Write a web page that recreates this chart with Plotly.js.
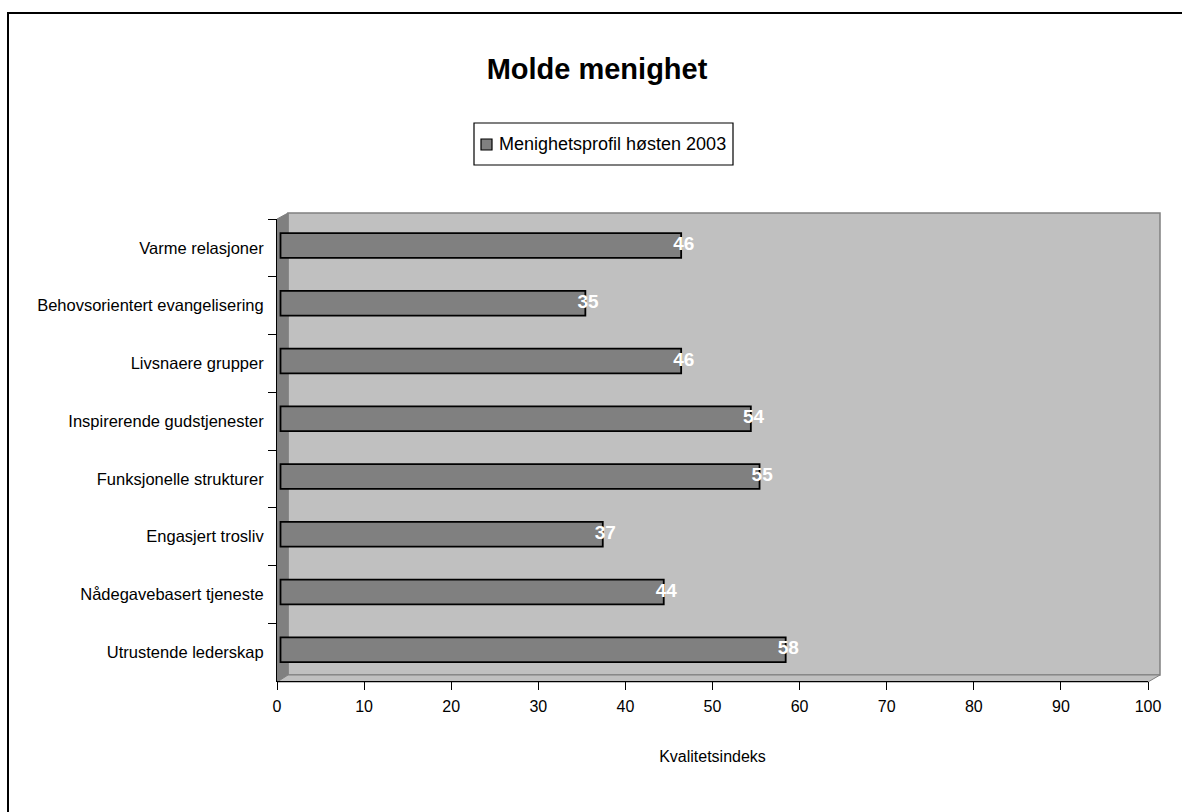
<!DOCTYPE html>
<html>
<head>
<meta charset="utf-8">
<script src="https://cdn.plot.ly/plotly-3.0.1.min.js"></script>
<style>
html,body{margin:0;padding:0;background:#fff;}
#chart{width:1182px;height:812px;}
</style>
</head>
<body>
<div id="chart"></div>
<script>
// Data (top to bottom as shown)
const categories = [
  "Varme relasjoner",
  "Behovsorientert evangelisering",
  "Livsnaere grupper",
  "Inspirerende gudstjenester",
  "Funksjonelle strukturer",
  "Engasjert trosliv",
  "Nådegavebasert tjeneste",
  "Utrustende lederskap"
];
const values = [46, 35, 46, 54, 55, 37, 44, 58];
const seriesName = "Menighetsprofil høsten 2003";
const xTicks = [0, 10, 20, 30, 40, 50, 60, 70, 80, 90, 100];

const FONT = "'Liberation Sans', Arial, sans-serif";

// plot pixel geometry
const L = 277, R = 34, T = 219, B = 131;
const W = 1182 - L - R, H = 812 - T - B;
const px = x => (x - L) / W;          // pixel -> paper x
const py = y => 1 - (y - T) / H;      // pixel -> paper y
const n = categories.length;
const band = H / n;
const dxUnits = 3.5 / (W / 100);      // 3D offset of bars (px -> data units)
const dyCats = 2.4 / band;

const traces = [
  {
    type: "bar",
    orientation: "h",
    y: categories,
    x: values,
    xaxis: "x2", yaxis: "y2",
    name: seriesName,
    width: 0.43,
    marker: { color: "#808080", line: { color: "#000000", width: 1.8 } },
    showlegend: false
  },
  {
    type: "scatter",
    mode: "text",
    y: categories,
    x: values.map(v => v + 0.3),
    xaxis: "x2", yaxis: "y2",
    text: values.map(String),
    textposition: "middle center",
    textfont: { family: FONT, size: 19, color: "#ffffff", weight: "bold" },
    showlegend: false,
    hoverinfo: "skip"
  }
];

const shapes = [
  // outer chart border
  { type: "rect", xref: "paper", yref: "paper", layer: "below",
    x0: px(8), x1: px(1300), y0: py(13), y1: py(900),
    line: { color: "#000", width: 2 }, fillcolor: "rgba(0,0,0,0)" },
  // back wall
  { type: "rect", xref: "paper", yref: "paper", layer: "below",
    x0: px(288), x1: px(1160), y0: py(675), y1: py(213),
    line: { color: "#808080", width: 1.5 }, fillcolor: "#C0C0C0" },
  // left side wall
  { type: "path", xref: "paper", yref: "paper", layer: "below",
    path: `M ${px(277)} ${py(219)} L ${px(288)} ${py(213)} L ${px(288)} ${py(675)} L ${px(277)} ${py(682)} Z`,
    line: { color: "#808080", width: 1 }, fillcolor: "#808080" },
  // floor
  { type: "path", xref: "paper", yref: "paper", layer: "below",
    path: `M ${px(277)} ${py(682)} L ${px(288)} ${py(675)} L ${px(1160)} ${py(675)} L ${px(1148)} ${py(682)} Z`,
    line: { color: "#808080", width: 1 }, fillcolor: "#C0C0C0" },
  // legend box
  { type: "rect", xref: "paper", yref: "paper", layer: "above",
    x0: px(474), x1: px(733), y0: py(165), y1: py(123),
    line: { color: "#000", width: 1.2 }, fillcolor: "#ffffff" },
  // legend symbol
  { type: "rect", xref: "paper", yref: "paper", layer: "above",
    x0: px(481), x1: px(492), y0: py(150), y1: py(139),
    line: { color: "#000", width: 1.2 }, fillcolor: "#808080" }
];

const layout = {
  width: 1182, height: 812,
  margin: { l: L, r: R, t: T, b: B, pad: 0 },
  paper_bgcolor: "#ffffff",
  plot_bgcolor: "rgba(0,0,0,0)",
  font: { family: FONT, size: 16, color: "#000" },
  title: {
    text: "<b>Molde menighet</b>",
    font: { family: FONT, size: 29, color: "#000" },
    x: 597 / 1182, xref: "container", xanchor: "center",
    y: 1 - 69 / 812, yref: "container", yanchor: "middle"
  },
  showlegend: false,
  annotations: [
    { xref: "paper", yref: "paper", x: px(728), y: py(144),
      xanchor: "right", yanchor: "middle", showarrow: false,
      text: seriesName,
      font: { family: FONT, size: 18, color: "#000" } }
  ],
  xaxis: {
    range: [0, 100],
    tickvals: xTicks,
    ticktext: xTicks.map(String),
    ticks: "outside", ticklen: 8, tickcolor: "#000", tickwidth: 1,
    showline: true, linecolor: "#000", linewidth: 1,
    showgrid: false, zeroline: false,
    tickfont: { family: FONT, size: 16, color: "#000" },
    ticklabelstandoff: 3,
    title: { text: "Kvalitetsindeks", font: { family: FONT, size: 16, color: "#000" }, standoff: 36 },
    fixedrange: true
  },
  xaxis2: {
    overlaying: "x",
    range: [-dxUnits, 100 - dxUnits],
    visible: false,
    fixedrange: true
  },
  yaxis: {
    type: "category",
    categoryarray: categories,
    range: [n - 0.5, -0.5],
    ticks: "outside", ticklen: 8, tickcolor: "#000", tickson: "boundaries",
    showline: true, linecolor: "#000", linewidth: 1,
    showgrid: false, zeroline: false,
    tickfont: { family: FONT, size: 16.5, color: "#000" },
    ticklabelstandoff: 9,
    fixedrange: true
  },
  yaxis2: {
    type: "category",
    categoryarray: categories,
    overlaying: "y",
    range: [n - 0.5 + dyCats, -0.5 + dyCats],
    visible: false,
    fixedrange: true
  },
  shapes: shapes
};

Plotly.newPlot("chart", [
  // invisible trace to anchor the primary category axis labels
  { type: "scatter", mode: "markers", y: categories, x: values.map(() => 0),
    marker: { opacity: 0 }, hoverinfo: "skip", showlegend: false },
  ...traces
], layout, { displayModeBar: false, staticPlot: true });
</script>
</body>
</html>
